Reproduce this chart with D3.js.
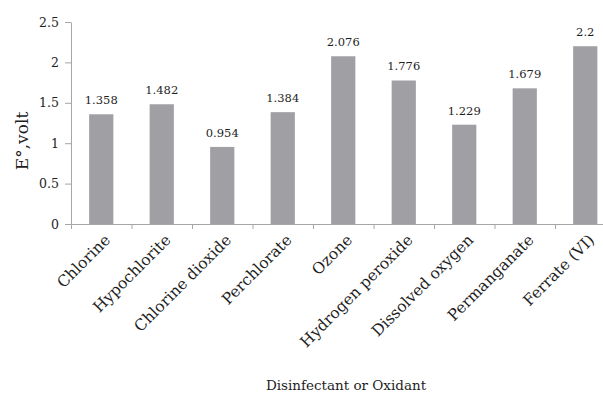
<!DOCTYPE html>
<html>
<head>
<meta charset="utf-8">
<script src="https://cdn.jsdelivr.net/npm/d3@7"></script>
<style>
  body { margin: 0; background: #fff; }
  text { font-family: "DejaVu Serif", serif; fill: #1e1e1e; }
</style>
</head>
<body>
<svg id="chart" width="603" height="396"></svg>
<script>
var categories = ["Chlorine", "Hypochlorite", "Chlorine dioxide", "Perchlorate", "Ozone",
  "Hydrogen peroxide", "Dissolved oxygen", "Permanganate", "Ferrate (VI)"];
var potentials = [1.358, 1.482, 0.954, 1.384, 2.076, 1.776, 1.229, 1.679, 2.2];
var valueLabels = ["1.358", "1.482", "0.954", "1.384", "2.076", "1.776", "1.229", "1.679", "2.2"];
var yTicks = [0, 0.5, 1, 1.5, 2, 2.5];

var barColor = "#a0a0a4";
var axisColor = "#a6a6a6";

var svg = d3.select("#chart"),
  plotLeft = 71, plotRight = 615.5, plotTop = 22, plotBottom = 224;

var x = d3.scaleBand()
  .domain(categories)
  .range([plotLeft, plotRight])
  .paddingInner(0.6)
  .paddingOuter(0.3);

var y = d3.scaleLinear()
  .domain([0, 2.5])
  .range([plotBottom, plotTop]);

// y axis
var yAxis = svg.append("g")
  .attr("transform", "translate(" + plotLeft + ",0)")
  .call(d3.axisLeft(y).tickValues(yTicks).tickSize(6).tickSizeOuter(0).tickPadding(6)
    .tickFormat(function(d) { return String(d); }));
yAxis.selectAll("path, line").attr("stroke", axisColor);
yAxis.selectAll("text").style("font-size", "12.5px").style("fill", "#1e1e1e").style("font-family", "DejaVu Serif, serif");

// x axis: ticks sit on the category boundaries
var xb = d3.scaleLinear().domain([0, categories.length]).range([plotLeft, plotRight]);
var xAxis = svg.append("g")
  .attr("transform", "translate(0," + plotBottom + ")")
  .call(d3.axisBottom(xb).tickValues(d3.range(categories.length + 1)).tickSize(5).tickSizeOuter(0)
    .tickFormat(""));
xAxis.selectAll("path, line").attr("stroke", axisColor);

// bars
svg.append("g")
  .selectAll("rect")
  .data(categories)
  .enter().append("rect")
  .attr("x", function(d) { return x(d); })
  .attr("width", x.bandwidth())
  .attr("y", function(d, i) { return y(potentials[i]); })
  .attr("height", function(d, i) { return plotBottom - y(potentials[i]); })
  .style("fill", barColor);

// value labels
svg.append("g")
  .selectAll("text")
  .data(categories)
  .enter().append("text")
  .attr("x", function(d) { return x(d) + x.bandwidth() / 2; })
  .attr("y", function(d, i) { return y(potentials[i]) - 10; })
  .attr("text-anchor", "middle")
  .style("font-size", "11.5px")
  .text(function(d, i) { return valueLabels[i]; });

// category labels, rotated
svg.append("g")
  .selectAll("text")
  .data(categories)
  .enter().append("text")
  .attr("transform", function(d) {
    return "translate(" + (x(d) + x.bandwidth() / 2 + 10) + "," + (plotBottom + 17) + ") rotate(-45)";
  })
  .attr("text-anchor", "end")
  .style("font-size", "15.5px")
  .text(function(d) { return d; });

// axis titles
svg.append("text")
  .attr("x", 346)
  .attr("y", 390)
  .attr("text-anchor", "middle")
  .style("font-size", "13.5px")
  .text("Disinfectant or Oxidant");

svg.append("text")
  .attr("transform", "translate(28,141) rotate(-90)")
  .attr("text-anchor", "middle")
  .style("font-size", "17px")
  .text("E°,volt");
</script>
</body>
</html>
